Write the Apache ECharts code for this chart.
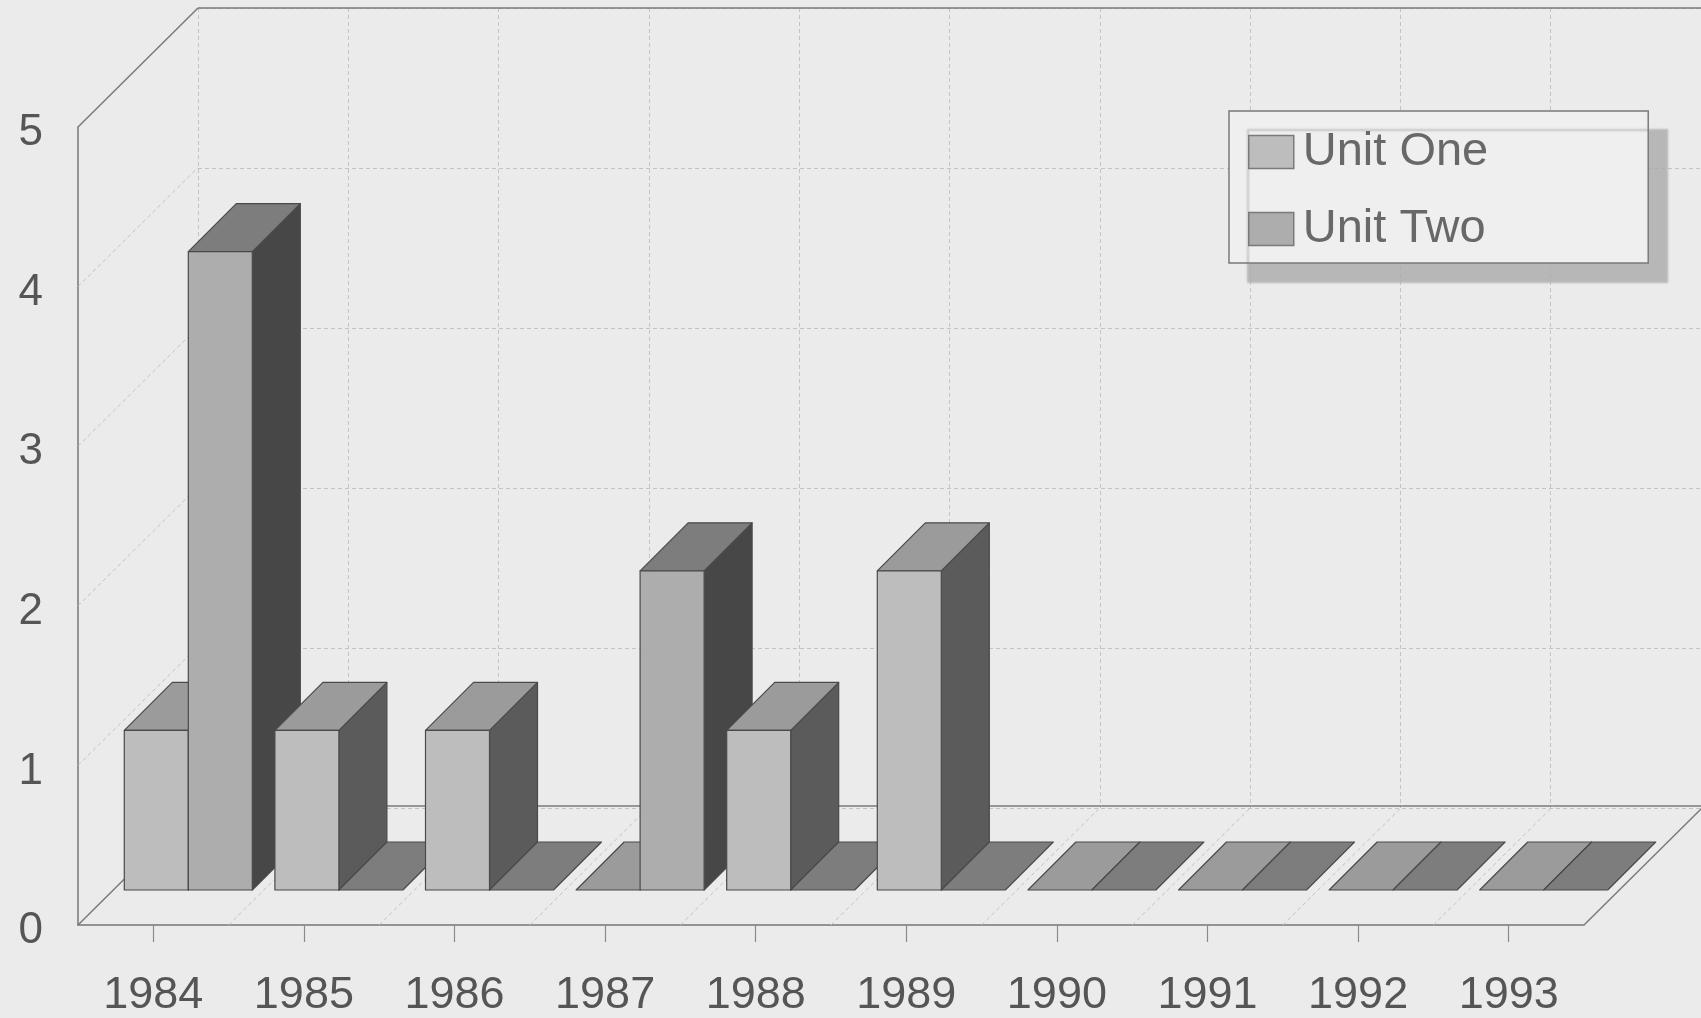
<!DOCTYPE html>
<html>
<head>
<meta charset="utf-8">
<script src="https://cdn.jsdelivr.net/npm/echarts@6/dist/echarts.min.js"></script>
<style>
  html, body { margin: 0; padding: 0; background: #ebebeb; }
  #chart { width: 1701px; height: 1018px; }
</style>
</head>
<body>
<div id="chart"></div>
<script>
// Yearly counts per unit
const years = ['1984', '1985', '1986', '1987', '1988', '1989', '1990', '1991', '1992', '1993'];
const unitOne = [1, 1, 1, 0, 1, 2, 0, 0, 0, 0];
const unitTwo = [4, 0, 0, 2, 0, 0, 0, 0, 0, 0];
const yTicks = [0, 1, 2, 3, 4, 5];

// Oblique projection settings (pixels)
const WALL_DX = 120, WALL_DY = 119;   // depth of the back wall
const ROW_DX = 35, ROW_DY = 35;       // depth of the bar row's front plane
const BAR_D = 48;                     // bar thickness in depth
const BAR_SHARE = 0.425;              // bar width as a share of the category band

const FONT = '"Liberation Sans", Arial, Helvetica, sans-serif';

const shades = {
  'Unit One': { front: '#bdbdbd', top: '#9b9b9b', side: '#5b5b5b' },
  'Unit Two': { front: '#adadad', top: '#7d7d7d', side: '#474747' }
};
const EDGE = '#4a4a4a';

function barRenderer(name, slot) {
  const c = shades[name];
  return function (params, api) {
    const i = api.value(0);
    const v = api.value(1);
    const base = api.coord([i, 0]);
    const peak = api.coord([i, v]);
    const band = api.size([1, 0])[0];
    const w = band * BAR_SHARE;
    const x0 = base[0] + ROW_DX + (slot === 0 ? -w : 0);
    const yb = base[1] - ROW_DY;
    const yt = peak[1] - ROW_DY;
    const order = i * 10 + slot * 5;
    const stroke = { stroke: EDGE, lineWidth: 1.2, lineJoin: 'round' };
    const children = [];
    if (v > 0) {
      children.push({
        type: 'polygon', z2: order + 1,
        shape: { points: [[x0 + w, yt], [x0 + w + BAR_D, yt - BAR_D], [x0 + w + BAR_D, yb - BAR_D], [x0 + w, yb]] },
        style: Object.assign({ fill: c.side }, stroke)
      });
      children.push({
        type: 'rect', z2: order + 3,
        shape: { x: x0, y: yt, width: w, height: yb - yt },
        style: Object.assign({ fill: c.front }, stroke)
      });
    }
    children.push({
      type: 'polygon', z2: order + 2,
      shape: { points: [[x0, yt], [x0 + w, yt], [x0 + w + BAR_D, yt - BAR_D], [x0 + BAR_D, yt - BAR_D]] },
      style: Object.assign({ fill: c.top }, stroke)
    });
    return { type: 'group', children: children };
  };
}

// Left wall lines plus the back wall's top and bottom edges
function wallRenderer(params, api) {
  const cs = params.coordSys;
  const v = api.value(1);
  const y = api.coord([0, v])[1];
  const solid = (v === yTicks[0] || v === yTicks[yTicks.length - 1]);
  const style = solid
    ? { stroke: '#7a7a7a', lineWidth: 1.5 }
    : { stroke: '#c2c2c2', lineWidth: 1, lineDash: [4, 3] };
  const children = [{
    type: 'line',
    shape: { x1: cs.x, y1: y, x2: cs.x + WALL_DX, y2: y - WALL_DY },
    style: style
  }];
  if (solid) {
    children.push({
      type: 'line',
      shape: { x1: cs.x + WALL_DX, y1: y - WALL_DY, x2: cs.x + cs.width + WALL_DX, y2: y - WALL_DY },
      style: { stroke: '#7a7a7a', lineWidth: 1.5 }
    });
  }
  return { type: 'group', children: children };
}

// Floor lines running back from each category boundary
function floorRenderer(params, api) {
  const i = api.value(0);
  const band = api.size([1, 0])[0];
  const p = api.coord([i, 0]);
  const x = p[0] + band / 2;
  const last = i === years.length - 1;
  return {
    type: 'line',
    shape: { x1: x, y1: p[1], x2: x + WALL_DX, y2: p[1] - WALL_DY },
    style: last ? { stroke: '#7a7a7a', lineWidth: 1.5 } : { stroke: '#c2c2c2', lineWidth: 1, lineDash: [4, 3] }
  };
}

const chart = echarts.init(document.getElementById('chart'), null, { renderer: 'canvas' });

chart.setOption({
  backgroundColor: '#ebebeb',
  animation: false,
  textStyle: { fontFamily: FONT },
  grid: [
    { left: 78, top: 127, width: 1506, height: 800 },
    { left: 78 + WALL_DX, top: 127 - WALL_DY, width: 1506, height: 800 }
  ],
  legend: {
    orient: 'vertical',
    left: 1229, top: 111,
    data: ['Unit One', 'Unit Two'],
    icon: 'rect',
    itemWidth: 45, itemHeight: 33, itemGap: 27,
    padding: [16, 160, 9, 19],
    backgroundColor: '#efefef',
    borderColor: '#7a7a7a', borderWidth: 1.5,
    shadowColor: 'rgba(170,170,170,0.8)', shadowBlur: 2, shadowOffsetX: 19, shadowOffsetY: 19,
    itemStyle: { borderColor: '#7a7a7a', borderWidth: 1.5 },
    textStyle: { fontFamily: FONT, fontSize: 47, color: '#686868', lineHeight: 50, padding: [0, 0, 0, 4] },
    selectedMode: false
  },
  xAxis: [
    {
      type: 'category', gridIndex: 0, data: years,
      axisLine: { show: true, lineStyle: { color: '#777', width: 1.5 } },
      axisTick: { show: true, alignWithLabel: true, interval: 0, inside: false, length: 17, lineStyle: { color: '#8a8a8a', width: 1.2 } },
      axisLabel: { fontFamily: FONT, fontSize: 45, color: '#555', margin: 48, interval: 0 },
      splitLine: { show: false }
    },
    {
      type: 'category', gridIndex: 1, data: years,
      axisLine: { show: false }, axisTick: { show: false }, axisLabel: { show: false },
      splitLine: { show: true, interval: 0, lineStyle: { color: '#c4c4c4', width: 1, type: [4, 3] } }
    }
  ],
  yAxis: [
    {
      type: 'value', gridIndex: 0, min: 0, max: 5, interval: 1,
      axisLine: { show: true, lineStyle: { color: '#777', width: 1.5 } },
      axisTick: { show: false },
      axisLabel: {
        fontFamily: FONT, fontSize: 44, color: '#555', margin: 35,
        formatter: v => '{n|' + v + '}',
        rich: { n: { fontFamily: FONT, fontSize: 44, color: '#555', padding: [12, 0, 0, 0] } }
      },
      splitLine: { show: false }
    },
    {
      type: 'value', gridIndex: 1, min: 0, max: 5, interval: 1,
      axisLine: { show: false }, axisTick: { show: false }, axisLabel: { show: false },
      splitLine: { show: true, lineStyle: { color: '#c4c4c4', width: 1, type: [4, 3] } }
    }
  ],
  series: [
    {
      name: 'wall', type: 'custom', xAxisIndex: 0, yAxisIndex: 0, silent: true, z: 1,
      renderItem: wallRenderer,
      data: yTicks.map(v => [0, v])
    },
    {
      name: 'floor', type: 'custom', xAxisIndex: 0, yAxisIndex: 0, silent: true, z: 1,
      renderItem: floorRenderer,
      data: years.map((y, i) => [i, 0])
    },
    {
      name: 'Unit One', type: 'custom', xAxisIndex: 0, yAxisIndex: 0, z: 3,
      itemStyle: { color: shades['Unit One'].front },
      renderItem: barRenderer('Unit One', 0),
      encode: { x: 0, y: 1 },
      data: unitOne.map((v, i) => [i, v])
    },
    {
      name: 'Unit Two', type: 'custom', xAxisIndex: 0, yAxisIndex: 0, z: 3,
      itemStyle: { color: shades['Unit Two'].front },
      renderItem: barRenderer('Unit Two', 1),
      encode: { x: 0, y: 1 },
      data: unitTwo.map((v, i) => [i, v])
    }
  ]
});
</script>
</body>
</html>
